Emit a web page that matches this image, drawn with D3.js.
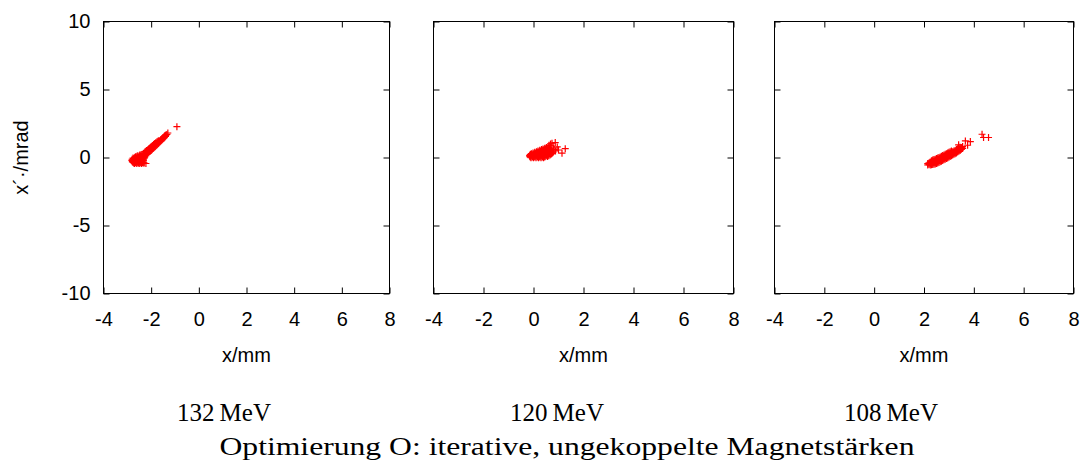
<html><head>
<script src="https://d3js.org/d3.v7.min.js"></script>
<style>
  body { margin: 0; background: #fff; }
  .tick text { font-family: "Liberation Sans", Arial, sans-serif; font-size: 20px; fill: #000; }
  .tick line { stroke: #000; }
  .caption { font-family: "Liberation Serif", "Times New Roman", serif; fill: #000; }
</style>
</head>
<body>
<svg id="phase" width="1087" height="466"></svg>
<script>
  // tick labels and captions
  const xTicks = [-4, -2, 0, 2, 4, 6, 8];
  const yTicks = [-10, -5, 0, 5, 10];
  const energies = ["132\u2009MeV", "120\u2009MeV", "108\u2009MeV"];
  const title = "Optimierung O: iterative, ungekoppelte Magnetstärken";

  // phase space points [x/mm, x'/mrad]
  const cloud132 = [
    [-2.70,-0.45],[-2.60,-0.45],[-2.50,-0.45],[-2.40,-0.45],
    [-2.76,-0.36],[-2.66,-0.36],[-2.56,-0.36],[-2.46,-0.36],[-2.36,-0.36],
    [-2.78,-0.27],[-2.68,-0.27],[-2.58,-0.27],[-2.48,-0.27],[-2.38,-0.27],
    [-2.77,-0.18],[-2.67,-0.18],[-2.57,-0.18],[-2.47,-0.18],[-2.37,-0.18],
    [-2.74,-0.09],[-2.64,-0.09],[-2.54,-0.09],[-2.44,-0.09],[-2.34,-0.09],
    [-2.68,0.00],[-2.58,0.00],[-2.48,0.00],[-2.38,0.00],[-2.30,0.00],
    [-2.60,0.09],[-2.50,0.09],[-2.40,0.09],[-2.32,0.09],
    [-2.48,0.18],[-2.38,0.18],
    [-2.73,-0.40],[-2.63,-0.40],[-2.53,-0.40],[-2.43,-0.40],[-2.33,-0.40],
    [-2.79,-0.31],[-2.71,-0.31],[-2.61,-0.31],[-2.51,-0.31],[-2.41,-0.31],
    [-2.81,-0.22],[-2.73,-0.22],[-2.63,-0.22],[-2.53,-0.22],[-2.43,-0.22],[-2.33,-0.22],
    [-2.80,-0.13],[-2.72,-0.13],[-2.62,-0.13],[-2.52,-0.13],[-2.42,-0.13],[-2.32,-0.13],
    [-2.76,-0.04],[-2.69,-0.04],[-2.59,-0.04],[-2.49,-0.04],[-2.39,-0.04],[-2.29,-0.04],
    [-2.66,0.05],[-2.55,0.05],[-2.45,0.05],[-2.35,0.05],[-2.27,0.05],
    [-2.56,0.13],[-2.45,0.13],[-2.35,0.13],[-2.28,0.13],
    [-2.42,0.22],[-2.33,0.22],
    [-2.25,0.15],[-2.25,0.30],[-2.25,0.45],
    [-2.20,0.22],[-2.20,0.37],[-2.20,0.52],
    [-2.15,0.28],[-2.15,0.42],[-2.15,0.56],
    [-2.10,0.35],[-2.10,0.50],[-2.10,0.64],
    [-2.05,0.44],[-2.05,0.58],[-2.05,0.72],
    [-2.00,0.52],[-2.00,0.66],[-2.00,0.80],
    [-1.95,0.60],[-1.95,0.74],[-1.95,0.88],
    [-1.90,0.68],[-1.90,0.82],[-1.90,0.95],
    [-1.85,0.77],[-1.85,0.90],[-1.85,1.03],
    [-1.80,0.86],[-1.80,0.98],[-1.80,1.10],
    [-1.75,0.94],[-1.75,1.06],[-1.75,1.18],
    [-1.70,1.03],[-1.70,1.14],[-1.70,1.24],
    [-1.65,1.12],[-1.65,1.22],
    [-1.60,1.20],[-1.60,1.30],
    [-1.55,1.28],[-1.55,1.38],
    [-1.51,1.36],[-1.51,1.45],
    [-1.47,1.42],[-1.47,1.51],
    [-1.44,1.50],[-1.44,1.58],
    [-1.40,1.56],[-1.40,1.63],
    [-1.37,1.66],[-1.34,1.70],[-1.30,1.80],[-0.92,2.27],
    [-2.29,-0.41],[-2.22,-0.44]
  ];

  const cloud120 = [
    [-0.10,-0.02],[0.00,-0.02],[0.10,-0.02],[0.20,-0.02],[0.30,-0.02],[0.40,-0.02],
    [-0.14,0.08],[-0.04,0.08],[0.06,0.08],[0.16,0.08],[0.26,0.08],[0.36,0.08],[0.46,0.08],[0.56,0.08],
    [-0.14,0.18],[-0.04,0.18],[0.06,0.18],[0.16,0.18],[0.26,0.18],[0.36,0.18],[0.46,0.18],[0.56,0.18],[0.66,0.18],
    [-0.08,0.28],[0.02,0.28],[0.12,0.28],[0.22,0.28],[0.32,0.28],[0.42,0.28],[0.52,0.28],[0.62,0.28],[0.72,0.28],
    [0.05,0.38],[0.15,0.38],[0.25,0.38],[0.35,0.38],[0.45,0.38],[0.55,0.38],[0.65,0.38],
    [0.18,0.48],[0.28,0.48],[0.38,0.48],[0.48,0.48],[0.58,0.48],
    [0.32,0.58],[0.42,0.58],[0.52,0.58],[0.62,0.58],
    [0.45,0.68],[0.55,0.68],[0.65,0.68],
    [-0.13,0.03],[-0.05,0.03],[0.05,0.03],[0.15,0.03],[0.25,0.03],[0.35,0.03],[0.45,0.03],
    [-0.16,0.13],[-0.09,0.13],[0.01,0.13],[0.11,0.13],[0.21,0.13],[0.31,0.13],[0.41,0.13],[0.51,0.13],[0.61,0.13],
    [-0.12,0.23],[-0.01,0.23],[0.09,0.23],[0.19,0.23],[0.29,0.23],[0.39,0.23],[0.49,0.23],[0.59,0.23],[0.69,0.23],
    [-0.02,0.33],[0.07,0.33],[0.17,0.33],[0.27,0.33],[0.37,0.33],[0.47,0.33],[0.57,0.33],[0.67,0.33],[0.76,0.33],
    [0.12,0.43],[0.22,0.43],[0.32,0.43],[0.42,0.43],[0.52,0.43],[0.62,0.43],[0.70,0.43],
    [0.25,0.53],[0.35,0.53],[0.45,0.53],[0.55,0.53],[0.65,0.53],
    [0.38,0.63],[0.48,0.63],[0.58,0.63],[0.68,0.63],
    [0.52,0.73],[0.62,0.73],
    [0.78,0.40],[0.82,0.58],[0.70,0.85],[0.68,1.00],
    [0.74,1.05],[0.87,1.10],[0.62,0.90],[0.95,0.78],[1.27,0.65],
    [1.14,0.32],[0.88,0.48],[1.00,0.55],[0.80,0.70]
  ];

  const cloud108 = [
    [2.15,-0.55],[2.15,-0.45],
    [2.20,-0.52],[2.20,-0.40],
    [2.25,-0.56],[2.25,-0.45],[2.25,-0.34],
    [2.30,-0.54],[2.30,-0.46],[2.30,-0.34],[2.30,-0.24],
    [2.35,-0.52],[2.35,-0.40],[2.35,-0.28],[2.35,-0.18],
    [2.40,-0.50],[2.40,-0.38],[2.40,-0.26],[2.40,-0.15],
    [2.45,-0.48],[2.45,-0.36],[2.45,-0.24],[2.45,-0.12],
    [2.50,-0.44],[2.50,-0.32],[2.50,-0.20],[2.50,-0.08],
    [2.55,-0.40],[2.55,-0.28],[2.55,-0.16],[2.55,-0.04],
    [2.60,-0.36],[2.60,-0.24],[2.60,-0.12],[2.60,0.00],
    [2.65,-0.32],[2.65,-0.20],[2.65,-0.08],[2.65,0.04],
    [2.70,-0.27],[2.70,-0.15],[2.70,-0.03],[2.70,0.09],
    [2.75,-0.22],[2.75,-0.10],[2.75,0.02],[2.75,0.14],
    [2.80,-0.17],[2.80,-0.05],[2.80,0.07],[2.80,0.19],
    [2.85,-0.12],[2.85,0.00],[2.85,0.12],[2.85,0.24],
    [2.90,-0.08],[2.90,0.04],[2.90,0.16],[2.90,0.28],
    [2.95,-0.03],[2.95,0.09],[2.95,0.21],[2.95,0.33],
    [3.00,0.02],[3.00,0.14],[3.00,0.26],[3.00,0.38],
    [3.05,0.07],[3.05,0.19],[3.05,0.31],[3.05,0.43],
    [3.10,0.13],[3.10,0.25],[3.10,0.37],[3.10,0.48],
    [3.15,0.18],[3.15,0.30],[3.15,0.42],
    [3.20,0.23],[3.20,0.35],[3.20,0.47],
    [3.25,0.28],[3.25,0.40],[3.25,0.52],
    [3.30,0.34],[3.30,0.46],[3.30,0.58],
    [3.35,0.40],[3.35,0.52],[3.35,0.64],
    [3.40,0.46],[3.40,0.58],[3.40,0.70],
    [3.45,0.52],[3.45,0.64],[3.45,0.76],
    [3.50,0.60],[3.50,0.72],
    [3.55,0.66],[3.55,0.80],
    [3.66,1.22],[3.86,1.17],[3.53,0.69],[3.39,0.93],
    [4.33,1.71],[4.39,1.47],[4.59,1.47],[3.75,0.90]
  ];

  const clouds = [cloud132, cloud120, cloud108];

  const svg = d3.select('svg#phase');

  // panel frames (gnuplot multiplot, first one is narrower because of the y label)
  const panels = [
    {left: 103.5, right: 389.5, cap: 224},
    {left: 433.5, right: 733.5, cap: 557},
    {left: 774.5, right: 1073.5, cap: 891}
  ];
  const plotTop = 21.5, plotBottom = 293.5;

  const yScale = d3.scaleLinear().domain([-10, 10]).range([plotBottom, plotTop]);
  const plus = "M-3.5,0H3.5M0,-3.5V3.5";
  const plain = d => String(d);   // hyphen minus like gnuplot

  panels.forEach((p, i) => {
    const xScale = d3.scaleLinear().domain([-4, 8]).range([p.left, p.right]);

    // ticks, all pointing inwards
    svg.append('g')
      .attr('transform', `translate(0,${plotBottom})`)
      .call(d3.axisBottom(xScale).tickValues(xTicks).tickSizeInner(-6).tickSizeOuter(0).tickPadding(18)
              .tickFormat(plain))
      .call(g => g.select('.domain').remove());
    svg.append('g')
      .attr('transform', `translate(0,${plotTop})`)
      .call(d3.axisTop(xScale).tickValues(xTicks).tickSizeInner(-6).tickSizeOuter(0).tickFormat(''))
      .call(g => g.select('.domain').remove());
    svg.append('g')
      .attr('transform', `translate(${p.left},0)`)
      .call(d3.axisLeft(yScale).tickValues(yTicks).tickSizeInner(-6).tickSizeOuter(0).tickPadding(13)
              .tickFormat(i == 0 ? plain : ''))
      .call(g => g.select('.domain').remove());
    svg.append('g')
      .attr('transform', `translate(${p.right},0)`)
      .call(d3.axisRight(yScale).tickValues(yTicks).tickSizeInner(-6).tickSizeOuter(0).tickFormat(''))
      .call(g => g.select('.domain').remove());

    svg.selectAll('g').attr('font-size', null).attr('font-family', null);

    svg.append('rect')
      .attr('x', p.left).attr('y', plotTop)
      .attr('width', p.right - p.left).attr('height', plotBottom - plotTop)
      .attr('fill', 'none').attr('stroke', '#000').attr('stroke-width', 1);

    // points
    svg.append('g').selectAll('path')
      .data(clouds[i])
      .join('path')
      .attr('d', plus)
      .attr('transform', d => `translate(${xScale(d[0])},${yScale(d[1])})`)
      .attr('fill', 'none')
      .attr('stroke', '#ff0000')
      .attr('stroke-width', 1.2);

    svg.append('text')
      .attr('x', (p.left + p.right) / 2).attr('y', 362)
      .attr('text-anchor', 'middle')
      .style('font-family', '"Liberation Sans", Arial, sans-serif')
      .style('font-size', '20px')
      .text('x/mm');

    svg.append('text')
      .attr('class', 'caption')
      .attr('x', p.cap).attr('y', 421)
      .attr('text-anchor', 'middle')
      .style('font-size', '25px')
      .text(energies[i]);
  });

  svg.append('text')
    .attr('transform', `translate(28,${(plotTop + plotBottom) / 2}) rotate(-90)`)
    .attr('text-anchor', 'middle')
    .style('font-family', '"Liberation Sans", Arial, sans-serif')
    .style('font-size', '20px')
    .text('x\u00b4\u00b7/mrad');

  svg.append('text')
    .attr('class', 'caption')
    .attr('x', 567).attr('y', 455)
    .attr('text-anchor', 'middle')
    .attr('textLength', 695)
    .attr('lengthAdjust', 'spacingAndGlyphs')
    .style('font-size', '25px')
    .text(title);
</script>
</body>
</html>
